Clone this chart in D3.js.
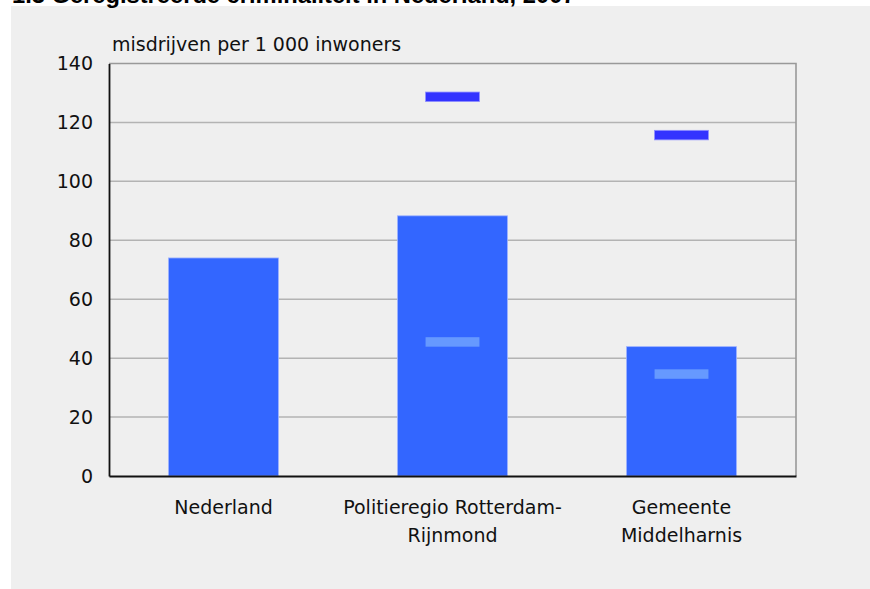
<!DOCTYPE html>
<html>
<head>
<meta charset="utf-8">
<script src="https://cdn.jsdelivr.net/npm/d3@7"></script>
<style>
  html, body { margin: 0; padding: 0; background: #ffffff; }
  svg { display: block; }
</style>
</head>
<body>
<svg id="chart" width="870" height="589"></svg>
<script>
// ---- data ----
const title = "1.3 Geregistreerde criminaliteit in Nederland, 2007";
const yLabel = "misdrijven per 1 000 inwoners";
const categories = ["Nederland", "Politieregio Rotterdam-Rijnmond", "Gemeente Middelharnis"];
const categoryLines = [["Nederland"], ["Politieregio Rotterdam-", "Rijnmond"], ["Gemeente", "Middelharnis"]];
const values = [74.0, 88.3, 43.9];
const maxValues = [null, 128.7, 115.7];
const minValues = [null, 45.5, 34.6];
const yTicks = [0, 20, 40, 60, 80, 100, 120, 140];

(function () {
// ---- layout ----
const svg = d3.select("#chart");
const pLeft = 109, pRight = 796, pTop = 63.5, pBottom = 476;

svg.append("rect").attr("x", 11).attr("y", 6).attr("width", 859).attr("height", 583).attr("fill", "#efefef");

svg.append("text").attr("x", 12).attr("y", 2.5)
  .attr("font-family", "Liberation Sans, Arial, sans-serif")
  .attr("font-weight", "bold").attr("font-size", 23.7).attr("fill", "#000")
  .text(title);

const x = d3.scaleBand().domain(categories).range([pLeft, pRight]).paddingInner(0.52).paddingOuter(0.26);
const y = d3.scaleLinear().domain([0, 140]).range([pBottom, pTop]);

const font = "DejaVu Sans, Verdana, sans-serif";

// gridlines
svg.append("g").selectAll("line").data(yTicks.filter(t => t > 0 && t < 140)).join("line")
  .attr("x1", pLeft).attr("x2", pRight)
  .attr("y1", d => y(d)).attr("y2", d => y(d))
  .attr("stroke", "#b3b3b3").attr("stroke-width", 1.5);

// frame top/right
svg.append("path")
  .attr("d", `M${pLeft},${y(140)}H${pRight}V${y(0)}`)
  .attr("fill", "none").attr("stroke", "#999").attr("stroke-width", 1.6);

// bars
svg.append("g").selectAll("rect").data(categories).join("rect")
  .attr("x", d => x(d)).attr("width", x.bandwidth())
  .attr("y", (d, i) => y(values[i])).attr("height", (d, i) => y(0) - y(values[i]))
  .attr("fill", "#3366ff").attr("stroke", "#9db2ff").attr("stroke-width", 0.8);

const mw = x.bandwidth() * 0.49, mh = 9.5;
// max markers
svg.append("g").selectAll("rect").data(categories.filter((d, i) => maxValues[i] != null)).join("rect")
  .attr("x", d => x(d) + x.bandwidth() / 2 - mw / 2).attr("width", mw)
  .attr("y", d => y(maxValues[categories.indexOf(d)]) - mh / 2).attr("height", mh)
  .attr("fill", "#3333ff").attr("stroke", "#8f8fff").attr("stroke-width", 0.8);
// min markers
svg.append("g").selectAll("rect").data(categories.filter((d, i) => minValues[i] != null)).join("rect")
  .attr("x", d => x(d) + x.bandwidth() / 2 - mw / 2).attr("width", mw)
  .attr("y", d => y(minValues[categories.indexOf(d)]) - mh / 2).attr("height", mh)
  .attr("fill", "#6699ff");

// y axis
const yAxis = svg.append("g").attr("transform", `translate(${pLeft},0)`)
  .call(d3.axisLeft(y).tickValues(yTicks).tickSize(0).tickPadding(16).tickFormat(d3.format("d")));
yAxis.select(".domain").attr("stroke", "#111").attr("stroke-width", 1.8);
yAxis.selectAll("text").attr("font-family", font).attr("font-size", 19).attr("fill", "#111");

// x axis
const xAxis = svg.append("g").attr("transform", `translate(0,${pBottom})`)
  .call(d3.axisBottom(x).tickSize(0).tickFormat(""));
xAxis.select(".domain").attr("stroke", "#111").attr("stroke-width", 1.8);

// category labels
const lbl = svg.append("g").selectAll("text").data(categories).join("text")
  .attr("font-family", font).attr("font-size", 19).attr("fill", "#111")
  .attr("text-anchor", "middle");
lbl.each(function(d, i) {
  const t = d3.select(this);
  categoryLines[i].forEach((line, j) => {
    t.append("tspan").attr("x", x(d) + x.bandwidth() / 2).attr("y", 514 + j * 27.7).text(line);
  });
});

// y label
svg.append("text").attr("x", 112).attr("y", 51)
  .attr("font-family", font).attr("font-size", 19).attr("fill", "#111")
  .text(yLabel);
})();
</script>
</body>
</html>
